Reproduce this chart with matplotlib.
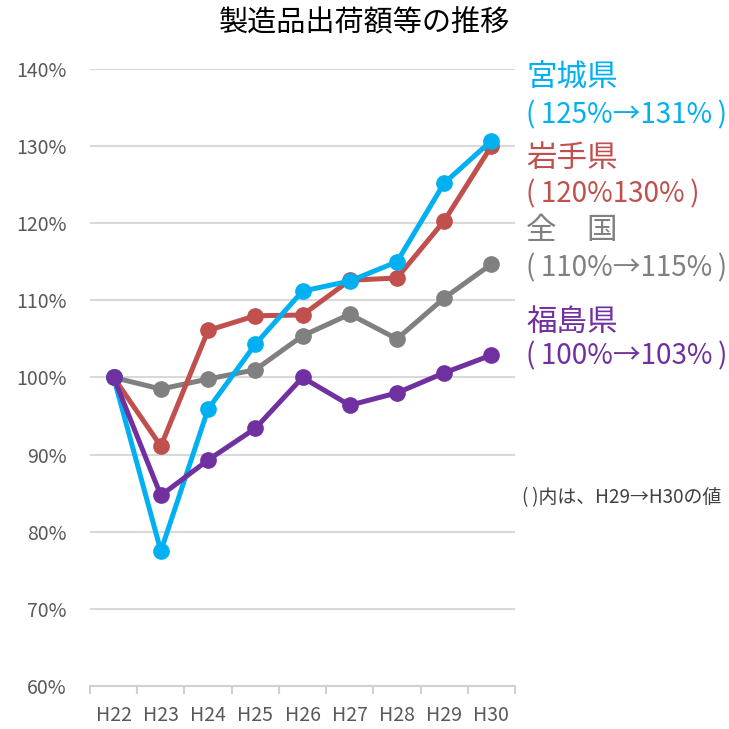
import numpy as np
import matplotlib
matplotlib.use('Agg')
import matplotlib.pyplot as plt
from matplotlib.ticker import FixedLocator, FuncFormatter

plt.rcParams['font.family'] = ['Noto Sans CJK JP', 'DejaVu Sans']

years = ['H22', 'H23', 'H24', 'H25', 'H26', 'H27', 'H28', 'H29', 'H30']
zenkoku = [100, 98.5, 99.8, 101.0, 105.4, 108.2, 105.0, 110.3, 114.7]
iwate = [100, 91.1, 106.1, 108.0, 108.1, 112.6, 112.9, 120.3, 130.0]
miyagi = [100, 77.5, 95.9, 104.3, 111.2, 112.5, 115.0, 125.2, 130.7]
fukushima = [100, 84.7, 89.3, 93.4, 100.0, 96.4, 98.0, 100.6, 102.9]

series = [
    ('全国', zenkoku, '#808080'),
    ('岩手県', iwate, '#C0504D'),
    ('宮城県', miyagi, '#00B0F0'),
    ('福島県', fukushima, '#7030A0'),
]

# (text, colour, y in figure coords, font size)
labels = [
    ('宮城県', '#00B0F0', 0.893, 22),
    ('(\u2009125%→131%\u2009)', '#00B0F0', 0.842, 20),
    ('岩手県', '#C0504D', 0.783, 22),
    ('(\u2009120%130%\u2009)', '#C0504D', 0.734, 20),
    ('全　国', '#808080', 0.684, 22),
    ('(\u2009110%→115%\u2009)', '#808080', 0.632, 20),
    ('福島県', '#7030A0', 0.558, 22),
    ('(\u2009100%→103%\u2009)', '#7030A0', 0.511, 20),
]

fig = plt.figure(figsize=(7.29, 7.29), dpi=100)
ax = fig.add_axes([0.1235, 0.059, 0.583, 0.8464])

x = np.arange(len(years))
for name, vals, col in series:
    ax.plot(x, vals, color=col, lw=3.6, marker='o', ms=11, solid_capstyle='round', zorder=3)

ax.set_xlim(-0.5, len(years) - 0.5)
ax.set_ylim(60, 140)
ax.set_yticks(np.arange(60, 141, 10))
ax.yaxis.set_major_formatter(FuncFormatter(lambda v, p: f'{v:.0f}%'))
ax.grid(axis='y', color='#D9D9D9', lw=1.5)
ax.set_axisbelow(True)

ax.set_xticks(x)
ax.set_xticklabels(years)
ax.xaxis.set_minor_locator(FixedLocator(np.arange(-0.5, len(years), 1)))
ax.tick_params(axis='x', which='major', length=0, pad=14, labelsize=14, labelcolor='#595959')
ax.tick_params(axis='x', which='minor', length=6, color='#D0D0D0', width=1.5)
ax.tick_params(axis='y', length=0, pad=17, labelsize=14, labelcolor='#595959')

for s in ['top', 'right', 'left']:
    ax.spines[s].set_visible(False)
ax.spines['bottom'].set_color('#D0D0D0')
ax.spines['bottom'].set_linewidth(1.5)

fig.text(0.5, 0.968, '製造品出荷額等の推移', ha='center', va='center', fontsize=21, color='black')

for txt, col, yy, fs in labels:
    fig.text(0.722, yy, txt, ha='left', va='center', fontsize=fs, color=col)

fig.text(0.716, 0.317, '(\u2009)内は、H29→H30の値', ha='left', va='center', fontsize=13.6, color='#404040')

fig.savefig('out.png', dpi=100)
